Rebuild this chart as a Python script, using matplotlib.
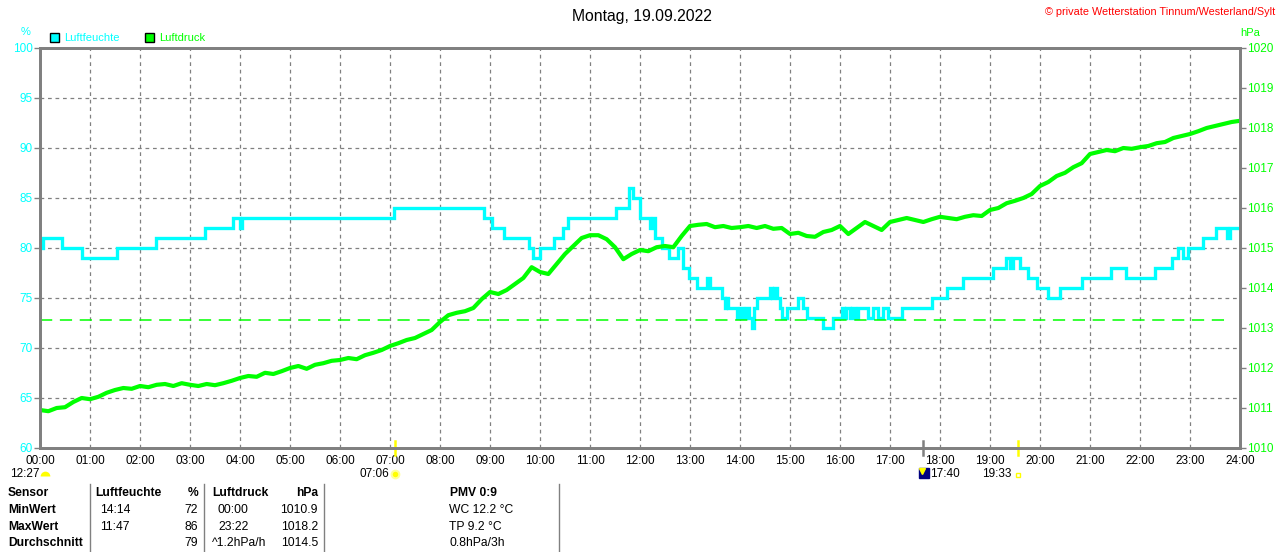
import numpy as np
import matplotlib
matplotlib.use("Agg")
import matplotlib.pyplot as plt
from matplotlib.lines import Line2D

plt.rcParams['font.family'] = ['Liberation Sans', 'DejaVu Sans']

# humidity (%), step changes: hour of day -> value
hum_t = [0.00, 0.06, 0.44, 0.84, 1.54, 2.32, 3.30, 3.86, 4.00, 4.04, 7.08, 8.88,
         9.04, 9.28, 9.78, 9.86, 10.00, 10.28, 10.46, 10.56, 11.52, 11.78, 11.86,
         12.00, 12.20, 12.26, 12.30, 12.44, 12.58, 12.76, 12.86, 12.98, 13.14,
         13.34, 13.40, 13.64, 13.70, 13.72, 13.76, 13.94, 14.00, 14.06, 14.12,
         14.18, 14.24, 14.28, 14.34, 14.60, 14.64, 14.68, 14.74, 14.80, 14.84,
         14.94, 15.16, 15.26, 15.34, 15.66, 15.86, 16.04, 16.08, 16.12, 16.20,
         16.24, 16.30, 16.36, 16.56, 16.66, 16.76, 16.86, 16.96, 17.24, 17.84,
         18.14, 18.46, 19.06, 19.32, 19.40, 19.46, 19.60, 19.76, 19.94, 20.16,
         20.40, 20.84, 21.42, 21.72, 22.30, 22.64, 22.76, 22.86, 22.96, 23.26,
         23.52, 23.74, 23.80, 23.96]
hum_v = [80, 81, 80, 79, 80, 81, 82, 83, 82, 83, 84, 83,
         82, 81, 80, 79, 80, 81, 82, 83, 84, 86, 85,
         83, 82, 83, 81, 80, 79, 80, 78, 77, 76,
         77, 76, 75, 74, 75, 74, 73, 74, 73, 74,
         73, 72, 74, 75, 76, 75, 76, 75, 74, 73,
         74, 75, 74, 73, 72, 73, 74, 73, 74, 73,
         74, 73, 74, 73, 74, 73, 74, 73, 74, 75,
         76, 77, 78, 79, 78, 79, 78, 77, 76, 75,
         76, 77, 78, 77, 78, 79, 80, 79, 80, 81,
         82, 81, 82, 82]

# pressure (hPa), every 10 minutes from 00:00 to 24:00
pres_v = [
    1010.95, 1010.92, 1011.00, 1011.02, 1011.15, 1011.25,
    1011.22, 1011.28, 1011.38, 1011.45, 1011.50, 1011.48,
    1011.55, 1011.52, 1011.58, 1011.60, 1011.55, 1011.62,
    1011.58, 1011.55, 1011.60, 1011.57, 1011.62, 1011.68,
    1011.75, 1011.80, 1011.78, 1011.88, 1011.85, 1011.92,
    1012.00, 1012.05, 1011.98, 1012.08, 1012.12, 1012.18,
    1012.20, 1012.25, 1012.22, 1012.32, 1012.38, 1012.45,
    1012.55, 1012.62, 1012.70, 1012.75, 1012.85, 1012.95,
    1013.15, 1013.32, 1013.38, 1013.42, 1013.50, 1013.72,
    1013.90, 1013.85, 1013.95, 1014.10, 1014.25, 1014.52,
    1014.40, 1014.35, 1014.60, 1014.85, 1015.05, 1015.25,
    1015.32, 1015.32, 1015.22, 1015.02, 1014.72, 1014.85,
    1014.95, 1014.92, 1015.02, 1015.05, 1015.02, 1015.30,
    1015.55, 1015.58, 1015.60, 1015.52, 1015.55, 1015.50,
    1015.52, 1015.55, 1015.50, 1015.55, 1015.48, 1015.50,
    1015.35, 1015.38, 1015.30, 1015.28, 1015.40, 1015.45,
    1015.55, 1015.35, 1015.50, 1015.65, 1015.55, 1015.45,
    1015.65, 1015.70, 1015.75, 1015.70, 1015.65, 1015.72,
    1015.78, 1015.75, 1015.72, 1015.78, 1015.82, 1015.80,
    1015.95, 1016.00, 1016.12, 1016.18, 1016.25, 1016.35,
    1016.55, 1016.65, 1016.80, 1016.88, 1017.02, 1017.12,
    1017.35, 1017.40, 1017.45, 1017.42, 1017.50, 1017.48,
    1017.52, 1017.55, 1017.62, 1017.65, 1017.75, 1017.80,
    1017.85, 1017.92, 1018.00, 1018.05, 1018.10, 1018.15,
    1018.18]
pres_t = np.arange(len(pres_v)) / 6.0
ref_pressure = 1013.2

hour_labels = ['%02d:00' % h for h in range(25)]
hum_ticks = [60, 65, 70, 75, 80, 85, 90, 95, 100]
pres_ticks = list(range(1010, 1021))

# sun / moon events (hours)
moonset = '12:27'
sunrise, sunrise_lbl = 7 + 6 / 60, '07:06'
moonrise, moonrise_lbl = 17 + 40 / 60, '17:40'
sunset, sunset_lbl = 19 + 33 / 60, '19:33'

table_head = ['Sensor', 'Luftfeuchte', '%', 'Luftdruck', 'hPa', 'PMV 0:9']
table_rows = [
    ['MinWert', '14:14', '72', '00:00', '1010.9', 'WC 12.2 °C'],
    ['MaxWert', '11:47', '86', '23:22', '1018.2', 'TP 9.2 °C'],
    ['Durchschnitt', '', '79', '^1.2hPa/h', '1014.5', '0.8hPa/3h'],
]

W, H = 1280, 552
CYAN = '#00ffff'
GREEN = '#00ff00'
GRAY = '#808080'


def fx(px):
    return px / W


def fy(py):
    return 1 - py / H


fig = plt.figure(figsize=(W / 100, H / 100), dpi=100)
ax = fig.add_axes([fx(40), fy(448), 1200 / W, 400 / H])
ax2 = ax.twinx()

ax.set_xlim(0, 24)
ax.set_ylim(60, 100)
ax2.set_ylim(1010, 1020)

ax.set_xticks(range(25))
ax.set_xticklabels(hour_labels)
ax.set_yticks(hum_ticks)
ax2.set_yticks(pres_ticks)
ax.tick_params(axis='x', length=0, pad=5, labelsize=8.5, labelcolor='black')
ax.tick_params(axis='y', length=4, width=1, color=GRAY, pad=1, labelsize=8.5, labelcolor=CYAN)
ax2.tick_params(axis='y', length=4, width=1, color=GRAY, pad=1, labelsize=8.5, labelcolor=GREEN)

for a in (ax, ax2):
    for s in a.spines.values():
        s.set_color(GRAY)
        s.set_linewidth(2)

ax.grid(True, color=GRAY, linestyle=(0, (3, 3)), linewidth=0.9)
ax.set_axisbelow(True)

ax.step(hum_t, hum_v, where='post', color=CYAN, linewidth=2.4, solid_joinstyle='miter')
ax2.plot(pres_t, pres_v, color=GREEN, linewidth=3.0)
ax2.hlines(ref_pressure, 0, 23.8, colors=GREEN, linestyles=(0, (8, 5)), linewidth=1.1)

# event markers on the time axis
xt = ax.get_xaxis_transform()
ax.plot([sunrise, sunrise], [-0.018, 0.018], color='#ffff00', lw=1.8, transform=xt, clip_on=False)
ax.plot([moonrise, moonrise], [-0.018, 0.018], color=GRAY, lw=1.8, transform=xt, clip_on=False)
ax.plot([sunset, sunset], [-0.018, 0.018], color='#ffff00', lw=1.8, transform=xt, clip_on=False)

# texts above the plot
fig.text(fx(642), fy(16), 'Montag, 19.09.2022', ha='center', va='center', fontsize=11.3)
fig.text(fx(1275), fy(12), '© private Wetterstation Tinnum/Westerland/Sylt', ha='right',
         va='center', fontsize=7.8, color='red')
fig.text(fx(26), fy(32), '%', ha='center', va='center', fontsize=8, color=CYAN)
fig.text(fx(1250), fy(33), 'hPa', ha='center', va='center', fontsize=8, color=GREEN)

for x0, col, name in [(50, CYAN, 'Luftfeuchte'), (145, GREEN, 'Luftdruck')]:
    fig.add_artist(plt.Rectangle((fx(x0), fy(42)), 9 / W, 9 / H, transform=fig.transFigure,
                                 facecolor=col, edgecolor='black', linewidth=1))
    fig.text(fx(x0 + 14), fy(38), name, ha='left', va='center', fontsize=8, color=col)

# sun / moon times under the axis
fig.text(fx(10), fy(474), moonset, ha='left', va='center', fontsize=8.5)
fig.add_artist(Line2D([fx(45)], [fy(476)], marker='o', fillstyle='top', markersize=7,
                      markerfacecolor='#ffff00', markerfacecoloralt='none',
                      markeredgecolor='none', transform=fig.transFigure))
fig.text(fx(389), fy(474), sunrise_lbl, ha='right', va='center', fontsize=8.5)
fig.add_artist(Line2D([fx(395)], [fy(474)], marker='o', markersize=5.5, markerfacecolor='#ffff00',
                      markeredgecolor='#ffff99', markeredgewidth=1.5, transform=fig.transFigure))
fig.add_artist(Line2D([fx(924)], [fy(473)], marker='s', markersize=7.5, markerfacecolor='#000080',
                      markeredgecolor='#000080', transform=fig.transFigure))
fig.add_artist(Line2D([fx(922)], [fy(471)], marker='v', markersize=4, markerfacecolor='#ffff00',
                      markeredgecolor='#ffff00', transform=fig.transFigure))
fig.text(fx(930), fy(474), moonrise_lbl, ha='left', va='center', fontsize=8.5)
fig.text(fx(1011), fy(474), sunset_lbl, ha='right', va='center', fontsize=8.5)
fig.add_artist(Line2D([fx(1018)], [fy(475)], marker='s', markersize=3.5, markerfacecolor='none',
                      markeredgecolor='#ffff00', markeredgewidth=1, transform=fig.transFigure))

# statistics table
for xs in (90, 204, 324, 559):
    fig.add_artist(Line2D([fx(xs), fx(xs)], [fy(484), fy(552)], color=GRAY, lw=1,
                          transform=fig.transFigure))

col_x = [8, 100, 198, 218, 318, 449]
col_ha = ['left', 'left', 'right', 'left', 'right', 'left']
head_x = [8, 95, 198, 212, 318, 473]
head_ha = ['left', 'left', 'right', 'left', 'right', 'center']
for x, ha, txt in zip(head_x, head_ha, table_head):
    fig.text(fx(x), fy(493), txt, ha=ha, va='center', fontsize=8.7, fontweight='bold')
for r, row in enumerate(table_rows):
    y = 510 + r * 16.5
    for c, txt in enumerate(row):
        x = col_x[c]
        if c == 3 and txt.startswith('^'):
            x = 212
        fig.text(fx(x), fy(y), txt, ha=col_ha[c], va='center', fontsize=8.7,
                 fontweight='bold' if c == 0 else 'normal')

fig.savefig('out.png', dpi=100)
